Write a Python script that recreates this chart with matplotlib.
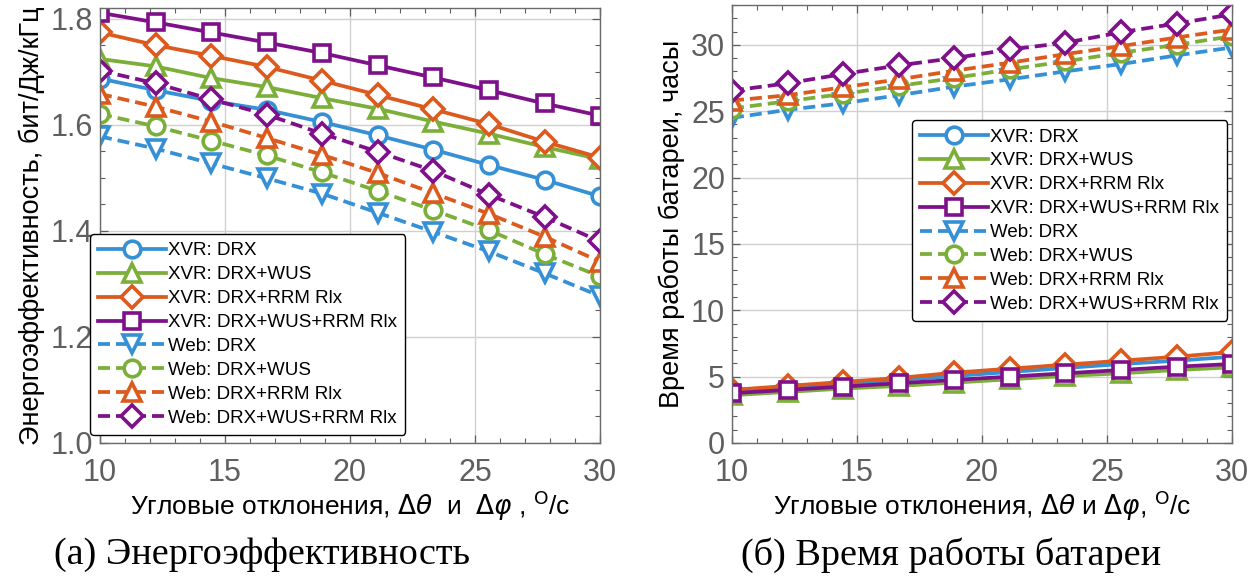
import matplotlib
matplotlib.use("Agg")
import matplotlib.pyplot as plt
from matplotlib.ticker import MultipleLocator

# ---------------- data ----------------
x_vals = [10, 12.22, 14.44, 16.67, 18.89, 21.11, 23.33, 25.56, 27.78, 30]

labels = ["XVR: DRX", "XVR: DRX+WUS", "XVR: DRX+RRM Rlx", "XVR: DRX+WUS+RRM Rlx",
          "Web: DRX", "Web: DRX+WUS", "Web: DRX+RRM Rlx", "Web: DRX+WUS+RRM Rlx"]

# (a) energy efficiency, bit/J/kHz
ee_xvr_drx = [1.687, 1.665, 1.645, 1.628, 1.605, 1.580, 1.553, 1.524, 1.496, 1.465]
ee_xvr_wus = [1.724, 1.710, 1.688, 1.671, 1.650, 1.630, 1.606, 1.583, 1.558, 1.535]
ee_xvr_rrm = [1.774, 1.750, 1.730, 1.709, 1.683, 1.656, 1.629, 1.601, 1.568, 1.538]
ee_xvr_wus_rrm = [1.811, 1.793, 1.774, 1.755, 1.735, 1.712, 1.689, 1.665, 1.640, 1.617]
ee_web_drx = [1.578, 1.555, 1.527, 1.499, 1.470, 1.434, 1.398, 1.361, 1.320, 1.277]
ee_web_wus = [1.620, 1.597, 1.570, 1.542, 1.510, 1.475, 1.439, 1.401, 1.356, 1.314]
ee_web_rrm = [1.658, 1.634, 1.606, 1.575, 1.543, 1.509, 1.471, 1.432, 1.389, 1.342]
ee_web_wus_rrm = [1.702, 1.678, 1.648, 1.619, 1.583, 1.549, 1.513, 1.468, 1.426, 1.380]

# (b) battery life, hours
bt_xvr_drx = [3.85, 4.15, 4.45, 4.75, 5.05, 5.35, 5.65, 5.95, 6.2, 6.5]
bt_xvr_wus = [3.6, 3.85, 4.1, 4.3, 4.55, 4.8, 5.05, 5.25, 5.5, 5.7]
bt_xvr_rrm = [4.0, 4.3, 4.6, 4.9, 5.3, 5.6, 5.9, 6.2, 6.5, 6.85]
bt_xvr_wus_rrm = [3.75, 4.0, 4.25, 4.5, 4.75, 5.0, 5.25, 5.5, 5.75, 5.95]
bt_web_drx = [24.5, 25.1, 25.6, 26.2, 26.85, 27.4, 28.0, 28.55, 29.2, 29.8]
bt_web_wus = [25.2, 25.75, 26.3, 26.9, 27.5, 28.15, 28.75, 29.4, 30.0, 30.65]
bt_web_rrm = [25.8, 26.2, 26.8, 27.4, 28.05, 28.65, 29.3, 29.9, 30.55, 31.15]
bt_web_wus_rrm = [26.55, 27.1, 27.8, 28.45, 29.0, 29.65, 30.15, 30.95, 31.6, 32.3]

ee_series = [ee_xvr_drx, ee_xvr_wus, ee_xvr_rrm, ee_xvr_wus_rrm,
             ee_web_drx, ee_web_wus, ee_web_rrm, ee_web_wus_rrm]
bt_series = [bt_xvr_drx, bt_xvr_wus, bt_xvr_rrm, bt_xvr_wus_rrm,
             bt_web_drx, bt_web_wus, bt_web_rrm, bt_web_wus_rrm]

# ---------------- styles ----------------
BLUE = "#3590D6"
GREEN = "#7CAF3A"
ORANGE = "#DC5A1E"
PURPLE = "#7E118A"
colors = [BLUE, GREEN, ORANGE, PURPLE, BLUE, GREEN, ORANGE, PURPLE]
markers = ["o", "^", "D", "s", "v", "o", "^", "D"]
mk_sizes = [12, 13, 11, 11.5, 13, 12, 13, 11]
linestyles = ["-", "-", "-", "-", (0, (3.2, 1.6)), (0, (3.2, 1.6)), (0, (3.2, 1.6)), (0, (3.2, 1.6))]

TICK_FONT = ["Liberation Sans", "DejaVu Sans"]
LABEL_FONT = ["Liberation Sans", "DejaVu Sans"]
TICK_GRAY = "#5f5f5f"

fig = plt.figure(figsize=(12.58, 5.82), dpi=100)
ax1 = fig.add_axes([100 / 1258, 1 - 443 / 582, 500 / 1258, 435 / 582])
ax2 = fig.add_axes([732 / 1258, 1 - 443 / 582, 500 / 1258, 438 / 582])


def draw(ax, series):
    handles = []
    for ys, c, m, ms, ls, lab in zip(series, colors, markers, mk_sizes, linestyles, labels):
        h, = ax.plot(x_vals, ys, color=c, marker=m, markersize=ms, linestyle=ls,
                     linewidth=2.7, markerfacecolor="white", markeredgecolor=c,
                     markeredgewidth=2.6, label=lab, clip_on=True)
        handles.append(h)
    return handles


def style(ax):
    ax.set_xlim(10, 30)
    ax.xaxis.set_major_locator(MultipleLocator(5))
    ax.xaxis.set_minor_locator(MultipleLocator(1))
    ax.grid(True, which="major", color="#d0d0d0", linewidth=1.0)
    ax.set_axisbelow(True)
    ax.tick_params(which="both", direction="in", top=True, right=True, colors=TICK_GRAY,
                   labelsize=22, pad=5)
    ax.tick_params(axis="x", which="major", pad=11)
    ax.tick_params(which="major", length=6, width=0.9)
    ax.tick_params(which="minor", length=3.5, width=0.8)
    for lbl in ax.get_xticklabels() + ax.get_yticklabels():
        lbl.set_family(TICK_FONT)
    for s in ax.spines.values():
        s.set_color("#6a6a6a")
        s.set_linewidth(1.0)


h1 = draw(ax1, ee_series)
ax1.set_ylim(1.0, 1.82)
ax1.yaxis.set_major_locator(MultipleLocator(0.2))
ax1.yaxis.set_minor_locator(MultipleLocator(0.05))
ax1.yaxis.set_major_formatter(plt.FuncFormatter(lambda v, p: f"{v:.1f}"))
style(ax1)
ax1.set_ylabel("Энергоэффективность, бит/Дж/кГц", fontsize=19.5, family=LABEL_FONT, labelpad=4)
ax1.set_xlabel(r"Угловые отклонения, $\Delta\theta$  и  $\Delta\varphi$ , $^{\mathrm{O}}$/с",
               fontsize=19, family=LABEL_FONT, labelpad=0)

h2 = draw(ax2, bt_series)
ax2.set_ylim(0, 33)
ax2.yaxis.set_major_locator(MultipleLocator(5))
ax2.yaxis.set_minor_locator(MultipleLocator(1))
style(ax2)
ax2.set_ylabel("Время работы батареи, часы", fontsize=19.5, family=LABEL_FONT, labelpad=4)
ax2.set_xlabel(r"Угловые отклонения, $\Delta\theta$ и $\Delta\varphi$, $^{\mathrm{O}}$/с",
               fontsize=19, family=LABEL_FONT, labelpad=0)

leg_kw = dict(frameon=True, fancybox=True, edgecolor="black",
              framealpha=1.0, handlelength=3.6, handletextpad=0.1, labelspacing=0.36,
              borderpad=0.45, borderaxespad=0.0, prop={"family": LABEL_FONT, "size": 13.5})
l1 = ax1.legend(handles=h1, loc="lower left", bbox_to_anchor=((90 - 100) / 500, (443 - 435) / 435), **leg_kw)
l1.get_frame().set_linewidth(1.0)
l2 = ax2.legend(handles=h2, loc="upper left", bbox_to_anchor=((912 - 732) / 500, (443 - 120) / 438), **leg_kw)
l2.get_frame().set_linewidth(1.0)

fig.text(262 / 1258, 1 - 555 / 582, "(а) Энергоэффективность", ha="center", va="center",
         fontsize=27.5, family=["Liberation Serif", "DejaVu Serif"])
fig.text(951 / 1258, 1 - 555 / 582, "(б) Время работы батареи", ha="center", va="center",
         fontsize=27.5, family=["Liberation Serif", "DejaVu Serif"])

fig.savefig("out.png", dpi=100)
